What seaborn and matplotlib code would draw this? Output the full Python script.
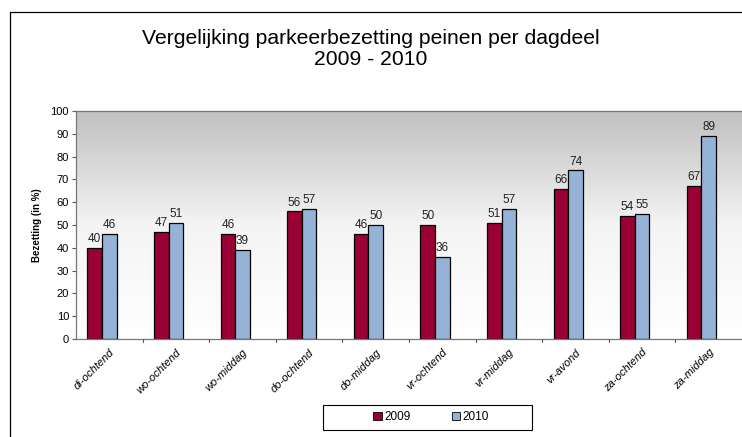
import numpy as np
import pandas as pd
import matplotlib
matplotlib.use("Agg")
import matplotlib.pyplot as plt
from matplotlib.patches import Rectangle, Patch
import seaborn as sns

categories = ["di-ochtend", "wo-ochtend", "wo-middag", "do-ochtend", "do-middag",
              "vr-ochtend", "vr-middag", "vr-avond", "za-ochtend", "za-middag"]
values_2009 = [40, 47, 46, 56, 46, 50, 51, 66, 54, 67]
values_2010 = [46, 51, 39, 57, 50, 36, 57, 74, 55, 89]
years = ["2009", "2010"]
colors = ["#990033", "#95B3D7"]

df = pd.DataFrame({
    "dagdeel": categories * 2,
    "jaar": [years[0]] * len(categories) + [years[1]] * len(categories),
    "bezetting": values_2009 + values_2010,
})

sns.set_style("white")
plt.rcParams["font.family"] = ["Liberation Sans", "DejaVu Sans"]
plt.rcParams["text.color"] = "black"
plt.rcParams["xtick.color"] = "black"
plt.rcParams["ytick.color"] = "black"
plt.rcParams["axes.labelcolor"] = "black"

fig = plt.figure(figsize=(7.42, 4.37), dpi=100)
ax = fig.add_axes([76 / 742, 1 - 339 / 437, 666 / 742, 228 / 437])

shift = 0.11  # Excel-style offset of the bar group inside its category slot
x0, x1 = -0.5 + shift, 9.5 + shift

# gradient background
grad = np.linspace(0, 1, 256).reshape(-1, 1)
cmap = matplotlib.colors.LinearSegmentedColormap.from_list("g", ["#ffffff", "#f4f4f4", "#c0c0c0"])
ax.imshow(grad, aspect="auto", cmap=cmap, origin="lower",
          extent=[x0, x1, 0, 100], zorder=0)

sns.barplot(data=df, x="dagdeel", y="bezetting", hue="jaar", palette=colors,
            saturation=1, width=0.44, dodge=True, edgecolor="black", linewidth=0.9,
            ax=ax, legend=False, zorder=2)

for cont in ax.containers:
    labels = [f"{int(round(v))}" for v in cont.datavalues]
    ax.bar_label(cont, labels=labels, padding=2, fontsize=8.5, color="#222222")

ax.set_xlim(x0, x1)
ax.set_ylim(0, 100)
ax.set_yticks(np.arange(0, 101, 10))
ax.tick_params(axis="y", labelsize=8, length=3, left=True, color="#555555", pad=2)
ax.set_xticks(np.arange(10) + shift)
ax.set_xticklabels(categories, rotation=45, ha="right", rotation_mode="anchor",
                   fontsize=8, style="italic")
ax.tick_params(axis="x", length=0, pad=6)
for b in np.arange(0.5, 9.5, 1) + shift:
    ax.plot([b, b], [0, -1.5], color="#555555", lw=0.8, clip_on=False, zorder=3)
ax.set_xlabel("")
ax.set_ylabel("Bezetting (in %)", fontsize=7, fontweight="bold", labelpad=6)

for s in ["left", "bottom", "top"]:
    ax.spines[s].set_color("#777777")
    ax.spines[s].set_linewidth(0.9)
ax.spines["right"].set_visible(False)

fig.text(0.5, 1 - 49 / 437, "Vergelijking parkeerbezetting peinen per dagdeel\n2009 - 2010",
         fontsize=15.2, ha="center", va="center", linespacing=1.12, color="black")

handles = [Patch(facecolor=colors[0], edgecolor="black", linewidth=0.6, label=years[0]),
           Patch(facecolor=colors[1], edgecolor="black", linewidth=0.6, label=years[1])]
leg = fig.legend(handles=handles, loc="center", bbox_to_anchor=(431 / 742, 1 - 417 / 437),
                 ncol=2, fontsize=8.5, frameon=False, handlelength=0.7,
                 handleheight=0.7, handletextpad=0.2, columnspacing=3.5,
                 borderpad=0.3, borderaxespad=0)
fig.patches.append(Rectangle((323 / 742, 1 - 430 / 437), 209 / 742, 25 / 437,
                             transform=fig.transFigure, fill=False,
                             edgecolor="black", linewidth=0.8))

fig.patches.append(Rectangle((10 / 742, -0.5), 2.0, 1 + 0.5 - 12 / 437,
                             transform=fig.transFigure, fill=False,
                             edgecolor="black", linewidth=0.9, zorder=-1))

fig.savefig("out.png", dpi=100)
